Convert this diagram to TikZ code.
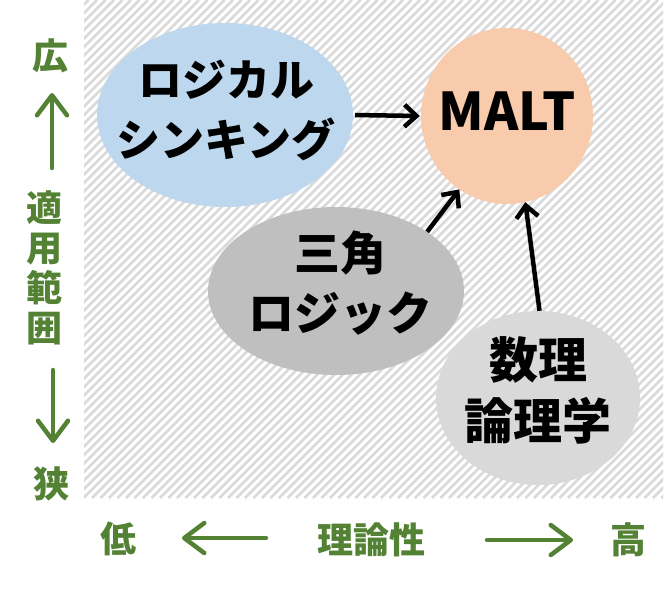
\documentclass[tikz,border=0pt]{standalone}
\usepackage{fontspec}
\newfontfamily\jp{Noto Sans CJK JP}
\usetikzlibrary{shapes.geometric,arrows.meta}
\definecolor{grn}{HTML}{548235}
\definecolor{bluefill}{HTML}{BDD7EE}
\definecolor{peach}{HTML}{F8CBAD}
\definecolor{midgray}{HTML}{BFBFBF}
\definecolor{lightgray}{HTML}{D9D9D9}
\definecolor{hatchgray}{HTML}{DADADA}
\tikzset{
  hatch/.style={draw=hatchgray, line width=2.6pt},
  bubble/.style={ellipse, inner sep=0pt},
  btext/.style={inner sep=0pt, align=center, text=black},
  glabel/.style={text=grn, inner sep=0pt, font=\jp\bfseries\fontsize{36}{40}\selectfont},
  garrow/.style={draw=grn, line width=4.5pt, line cap=round, -{Straight Barb[length=20pt,width=30pt,round]}},
  karrow/.style={draw=black, line width=4.5pt, -{Straight Barb[length=12pt,width=22pt]}}
}
\begin{document}
\begin{tikzpicture}[x=1pt,y=-1pt]
\useasboundingbox (0,0) rectangle (672,590);
\fill[white] (0,0) rectangle (672,590);
\begin{scope}
\clip (84,0) rectangle (663,498);
\foreach \i in {-520,-511.5,...,670} \draw[hatch] (\i,498) -- ++(498,-498);
\end{scope}

\node[bubble, fill=bluefill, minimum width=256pt, minimum height=184pt] (logical) at (225,115) {};
\node[bubble, fill=peach, minimum width=172pt, minimum height=176pt] (malt) at (507,116) {};
\node[bubble, fill=midgray, minimum width=256pt, minimum height=168pt] (sankaku) at (336,291) {};
\node[bubble, fill=lightgray, minimum width=204pt, minimum height=174pt] (suuri) at (538,398) {};

\node[btext, font=\jp\bfseries\fontsize{44}{60}\selectfont] (logicalt) at (226,110) {ロジカル\\シンキング};
\node[btext, font=\jp\bfseries\fontsize{52}{60}\selectfont] (maltt) at (507,111) {MALT};
\node[btext, font=\jp\bfseries\fontsize{46}{60}\selectfont] (sankakut) at (340,283) {三角\\ロジック};
\node[btext, font=\jp\bfseries\fontsize{49}{61}\selectfont] (suurit) at (538,390) {数理\\論理学};

\draw[karrow, shorten <=2pt, shorten >=1pt] (logical.east) -- (malt.west);
\draw[karrow] (sankaku.33) -- (malt.237);
\draw[karrow] (suuri.89) -- (malt.282);

\node[glabel] (hiro) at (50,56) {広};
\node[glabel, align=center] (tekiyou) at (45,268) {適\\用\\範\\囲};
\node[glabel] (sema) at (52,484) {狭};
\node[glabel] (low) at (118,539) {低};
\node[glabel] (riron) at (371,540) {理論性};
\node[glabel] (high) at (628,540) {高};

\coordinate (ua1) at (52,168);
\coordinate (ua2) at (52,93);
\coordinate (da1) at (53,370);
\coordinate (da2) at (53,443);
\coordinate (la1) at (266,538);
\coordinate (la2) at (182,538);
\coordinate (ra1) at (487,540);
\coordinate (ra2) at (573,540);
\draw[garrow] (ua1) -- (ua2);
\draw[garrow] (da1) -- (da2);
\draw[garrow] (la1) -- (la2);
\draw[garrow] (ra1) -- (ra2);
\end{tikzpicture}
\end{document}
